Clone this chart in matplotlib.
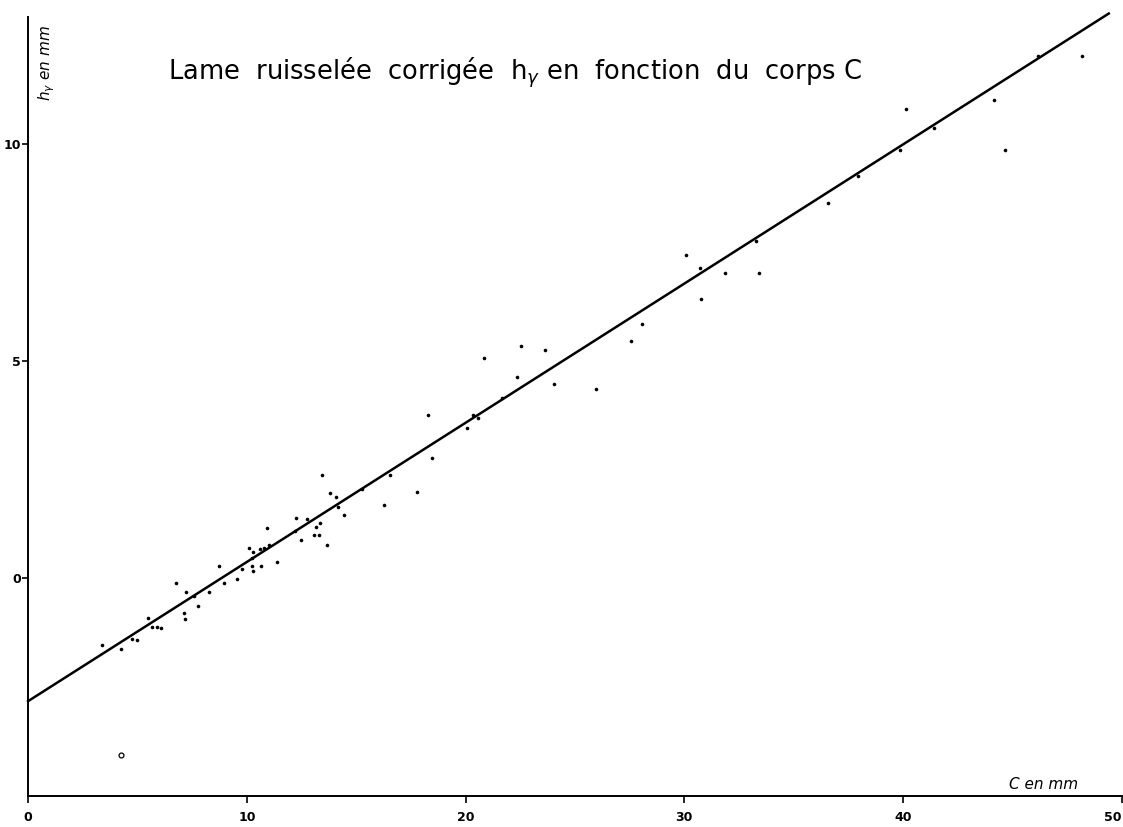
import numpy as np
import matplotlib
matplotlib.use("Agg")
import matplotlib.pyplot as plt

# corps C (mm) and corrected runoff depth h_gamma (mm)
c_mm = [3.37, 4.23, 4.76, 4.98, 5.47, 5.68, 5.88, 6.09, 6.77, 7.15, 7.18, 7.23,
        7.58, 7.75, 8.25, 8.71, 8.94, 9.57, 9.77, 10.24, 10.30, 10.09, 10.27,
        10.24, 10.58, 10.67, 10.79, 10.90, 11.03, 11.37, 12.25, 12.19, 12.47,
        12.76, 13.17, 13.35, 13.07, 13.32, 13.65, 14.18, 14.44, 13.45, 13.78,
        14.08, 15.28, 16.26, 16.56, 17.76, 18.46, 18.28, 20.06, 20.35, 20.55,
        21.67, 22.36, 20.82, 22.53, 23.65, 24.06, 25.95, 27.57, 28.05, 30.08,
        30.73, 30.75, 31.84, 33.41, 33.26, 36.58, 37.96, 40.14, 39.88, 41.42,
        44.17, 44.67, 46.16, 48.19]
h_mm = [-1.53, -1.61, -1.39, -1.41, -0.90, -1.11, -1.11, -1.13, -0.11, -0.79,
        -0.92, -0.32, -0.40, -0.64, -0.32, 0.29, -0.11, -0.01, 0.21, 0.28, 0.18,
        0.71, 0.60, 0.47, 0.68, 0.28, 0.69, 1.16, 0.76, 0.39, 1.39, 1.09, 0.88,
        1.37, 1.18, 1.28, 1.00, 0.99, 0.78, 1.64, 1.47, 2.38, 1.97, 1.87, 2.06,
        1.70, 2.39, 1.98, 2.78, 3.75, 3.46, 3.77, 3.68, 4.15, 4.64, 5.06, 5.34,
        5.25, 4.46, 4.35, 5.45, 5.84, 7.44, 7.13, 6.43, 7.03, 7.03, 7.76, 8.64,
        9.26, 10.80, 9.86, 10.35, 11.00, 9.86, 12.01, 12.02]

# the one open circle
outlier_c = [4.25]
outlier_h = [-4.06]

# fitted line h = a*C + b
fit_a = 0.32
fit_b = -2.82
fit_c = [0.0, 49.4]

x_ticks = [0, 10, 20, 30, 40, 50]
y_ticks = [0, 5, 10]


def main():
    fig = plt.figure(figsize=(11.23, 8.27), dpi=100)
    ax = fig.add_axes([0.025, 0.0375, 0.974, 0.9415])

    ax.plot(c_mm, h_mm, 'o', color='black', ms=2.6, mew=0)
    ax.plot(outlier_c, outlier_h, 'o', mfc='white', mec='black', ms=3.5, mew=0.9)

    fc = np.array(fit_c)
    ax.plot(fc, fit_a * fc + fit_b, color='black', lw=1.8, clip_on=False)

    ax.set_xlim(0, 50)
    ax.set_ylim(-5, 12.9)
    ax.spines['top'].set_visible(False)
    ax.spines['right'].set_visible(False)
    ax.spines['left'].set_linewidth(1.4)
    ax.spines['bottom'].set_linewidth(1.4)

    ax.set_xticks(x_ticks)
    ax.set_xticklabels([str(v) for v in x_ticks], fontweight='bold', fontsize=9)
    ax.get_xticklabels()[-1].set_horizontalalignment('right')
    ax.set_yticks(y_ticks)
    ax.set_yticklabels([str(v) for v in y_ticks], fontweight='bold', fontsize=9)
    ax.tick_params(axis='x', direction='out', length=5, width=1.2, pad=6)
    ax.tick_params(axis='y', direction='out', length=4, width=1.2, pad=1)

    ax.text(0.008, 0.99, r"$h_{\gamma}$ en mm", transform=ax.transAxes,
            rotation=90, ha='left', va='top', fontsize=11, style='italic')
    ax.text(0.928, 0.005, "C en mm", transform=ax.transAxes,
            ha='center', va='bottom', fontsize=11, style='italic')

    ax.text(0.445, 0.929, r"Lame  ruisselée  corrigée  h$_{\gamma}$ en  fonction  du  corps C",
            transform=ax.transAxes, ha='center', va='center', fontsize=18.5)

    fig.savefig("out.png", dpi=100)


if __name__ == "__main__":
    main()
